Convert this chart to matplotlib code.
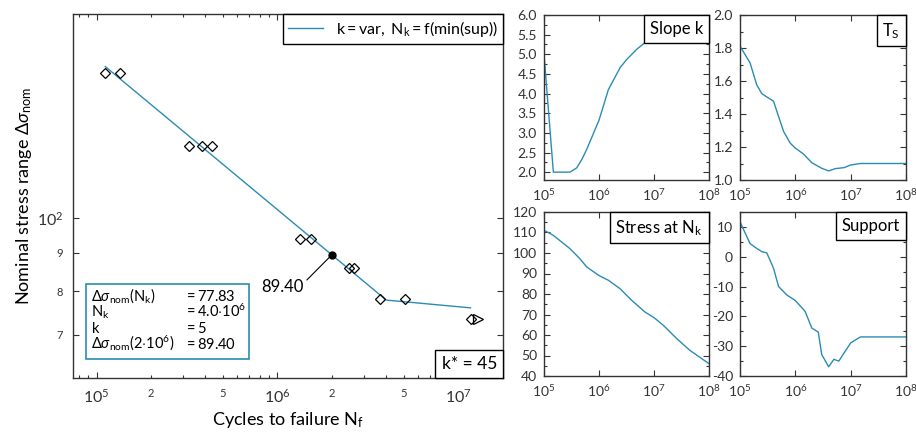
import numpy as np
import matplotlib
matplotlib.use('Agg')
import matplotlib.pyplot as plt
from matplotlib.ticker import FixedLocator, FixedFormatter, FuncFormatter, MultipleLocator, NullLocator
from matplotlib.offsetbox import AnchoredText
from matplotlib.transforms import offset_copy

plt.rcParams['font.family'] = ['Lato', 'DejaVu Sans']
plt.rcParams['mathtext.fontset'] = 'custom'
plt.rcParams['mathtext.rm'] = 'Lato'
plt.rcParams['mathtext.it'] = 'Lato:italic'
plt.rcParams['mathtext.bf'] = 'Lato:bold'
plt.rcParams['mathtext.sf'] = 'Lato'

TEAL = '#2b8cb3'
FRAME = '#333333'

# Wöhler-Versuche
N_test = [1.116e5, 1.346e5, 3.23e5, 3.83e5, 4.32e5, 1.335e6, 1.54e6, 2.49e6, 2.66e6, 3.7e6, 5.09e6]
S_test = [156.1, 156.1, 124.9, 124.9, 124.9, 93.8, 93.8, 85.9, 85.9, 78.1, 78.1]
N_runout = [1.17e7]
S_runout = [73.4]

# Wöhlerlinie (k = 5, k* = 45)
N_fit = [1.116e5, 4.0e6, 1.17e7]
S_fit = [159.2, 77.83, 76.0]
N_ref = [2.0e6]
S_ref = [89.40]

info_names = [r'$\Delta\sigma_\mathrm{nom}(\mathrm{N_k})$', r'$\mathrm{N_k}$', r'$\mathrm{k}$',
              r'$\Delta\sigma_\mathrm{nom}(2{\cdot}10^6)$']
info_values = [r'$=77.83$', r'$=4.0{\cdot}10^6$', r'$=5$', r'$=89.40$']

x_major = [1e5, 1e6, 1e7]
x_major_labels = [r'$10^5$', r'$10^6$', r'$10^7$']
y_major = [100]
y_major_labels = [r'$10^2$']
y_minor = [70, 80, 90]
y_minor_labels = ['7', '8', '9']

# Kleine Diagramme
N_slope = [1e5, 1.48e5, 2.97e5, 3.94e5, 4.86e5, 5.98e5, 1e6, 1.48e6, 2.42e6, 3.2e6, 4.88e6, 6.9e6, 1e7, 1e8]
slope_k = [5.0, 2.0, 2.0, 2.11, 2.32, 2.58, 3.32, 4.1, 4.66, 4.87, 5.13, 5.3, 5.4, 5.5]

N_ts = [1e5, 1.52e5, 2.0e5, 2.48e5, 4.04e5, 4.98e5, 6.14e5, 8.1e5, 1e6, 1.4e6, 1.98e6, 3.0e6, 4.0e6, 5.3e6, 7.6e6, 1e7, 1.5e7, 1e8]
T_s = [1.811, 1.71, 1.578, 1.523, 1.477, 1.385, 1.294, 1.223, 1.193, 1.158, 1.105, 1.071, 1.055, 1.069, 1.075, 1.091, 1.10, 1.10]

N_stress = [1e5, 1.48e5, 2.97e5, 4.5e5, 5.97e5, 1e6, 1.48e6, 2.41e6, 3.93e6, 6.86e6, 1e7, 1.48e7, 2.6e7, 4.5e7, 1e8]
stress_Nk = [111.1, 108.6, 102.1, 97.2, 93.2, 89.0, 86.7, 82.6, 76.9, 71.2, 68.5, 64.7, 58.2, 52.5, 46.0]

N_sup = [1e5, 1.52e5, 2e5, 2.48e5, 3.05e5, 4.04e5, 4.98e5, 7.0e5, 1e6, 1.5e6, 1.98e6, 2.6e6, 3.0e6, 4e6, 4.98e6, 6.1e6, 1e7, 1.5e7, 1e8]
support = [11.7, 4.4, 2.8, 1.7, 1.3, -3.9, -10.0, -12.8, -14.7, -18.3, -23.9, -25.3, -32.8, -36.9, -34.4, -35.0, -28.9, -26.9, -26.9]

W, H = 916, 432
fig = plt.figure(figsize=(W / 100, H / 100), dpi=100)


def px_axes(l, t, r, b):
    return fig.add_axes([l / W, 1 - b / H, (r - l) / W, (b - t) / H])


def style(ax, size):
    for s in ax.spines.values():
        s.set_color(FRAME)
        s.set_linewidth(1.0)
    ax.tick_params(which='both', direction='in', top=True, right=True,
                   colors=FRAME, labelcolor='#333333', labelsize=size, width=0.8)
    ax.tick_params(which='major', length=4)
    ax.tick_params(which='minor', length=2.5)


def box_label(ax, text, loc, size=12):
    at = AnchoredText(text, loc=loc, borderpad=0, pad=0.35, prop=dict(size=size))
    at.patch.set_boxstyle('square,pad=0')
    at.patch.set_edgecolor('black')
    at.patch.set_linewidth(1.0)
    ax.add_artist(at)
    return at


# Hauptdiagramm
ax = px_axes(73, 14, 503, 378)
ax.set_xscale('log')
ax.set_yscale('log')
ax.plot(N_fit, S_fit, color=TEAL, lw=1.0, label=r'$\mathrm{k = var,\ N_k = f(min(sup))}$')
ax.plot(N_test, S_test, ls='none', marker='D', ms=5, mfc='none', mec='black', mew=0.9)
ax.plot(N_runout, S_runout, ls='none', marker='D', ms=5, mfc='none', mec='black', mew=0.9)
shift = offset_copy(ax.transData, fig=fig, x=5.5, y=0, units='points')
ax.plot(N_runout, S_runout, ls='none', marker='>', ms=6.5, mfc='none', mec='black', mew=0.9, transform=shift)
ax.plot(N_ref, S_ref, ls='none', marker='o', ms=5, color='black')
ax.annotate('%.2f' % S_ref[0], xy=(N_ref[0], S_ref[0]), xytext=(-20, -23), textcoords='offset points',
            ha='right', va='center', fontsize=12,
            arrowprops=dict(arrowstyle='-', color='black', lw=0.8, shrinkA=0, shrinkB=2, relpos=(1.0, 0.75)))

ax.set_xlim(7.4e4, 1.77e7)
ax.set_ylim(61.3, 187)
style(ax, 11.5)
ax.xaxis.set_major_locator(FixedLocator(x_major))
ax.xaxis.set_major_formatter(FixedFormatter(x_major_labels))
ax.xaxis.set_minor_locator(FixedLocator([m * 10.0 ** e for e in range(4, 8) for m in range(2, 10)]))
ax.xaxis.set_minor_formatter(FuncFormatter(
    lambda v, p: '%d' % round(v / 10 ** np.floor(np.log10(v))) if round(v / 10 ** np.floor(np.log10(v))) in (2, 5) else ''))
ax.yaxis.set_major_locator(FixedLocator(y_major))
ax.yaxis.set_major_formatter(FixedFormatter(y_major_labels))
ax.yaxis.set_minor_locator(FixedLocator(y_minor))
ax.yaxis.set_minor_formatter(FixedFormatter(y_minor_labels))
ax.tick_params(axis='x', which='both', pad=7)
ax.tick_params(axis='y', which='both', pad=7)
ax.tick_params(which='minor', labelsize=8)
ax.tick_params(axis='y', which='minor', length=4)
ax.set_xlabel(r'Cycles to failure $\mathrm{N_f}$', fontsize=13, labelpad=3)
ax.set_ylabel(r'Nominal stress range $\Delta\sigma_\mathrm{nom}$', fontsize=13, labelpad=2)

leg = ax.legend(loc='upper right', fancybox=False, edgecolor='black', framealpha=1,
                borderaxespad=0, handlelength=2.2, fontsize=11.5, borderpad=0.3)
leg.get_frame().set_linewidth(1.0)

box_label(ax, 'k* = 45', 'lower right', size=12.5)

rect = plt.Rectangle((0.030, 0.052), 0.379, 0.206, transform=ax.transAxes,
                     fill=True, fc='white', ec=TEAL, lw=1.2, zorder=5)
ax.add_patch(rect)
baselines = [0.2115, 0.1676, 0.1236, 0.0797]
for name, val, yy in zip(info_names, info_values, baselines):
    ax.text(0.043, yy, name, transform=ax.transAxes, fontsize=10.5, va='baseline', zorder=6)
    ax.text(0.257, yy, val, transform=ax.transAxes, fontsize=10.5, va='baseline', zorder=6)

# Kleine Diagramme
panels = [
    ((544, 15, 709, 180), N_slope, slope_k, (1.8, 6.0), 0.5, 0.25, '%.1f', 'Slope k'),
    ((740, 15, 906, 180), N_ts, T_s, (1.0, 2.0), 0.2, 0.1, '%.1f', r'$\mathrm{T_S}$'),
    ((544, 212, 709, 376), N_stress, stress_Nk, (40, 120), 10, 5, '%d', r'Stress at $\mathrm{N_k}$'),
    ((740, 212, 906, 376), N_sup, support, (-40, 15), 10, 5, '%d', 'Support'),
]
for rect_px, xs, ys, ylim, major, minor, fmt, title in panels:
    a = px_axes(*rect_px)
    a.set_xscale('log')
    a.plot(xs, ys, color=TEAL, lw=1.0)
    a.set_xlim(1e5, 1e8)
    a.set_ylim(*ylim)
    style(a, 10)
    a.xaxis.set_major_locator(FixedLocator([1e5, 1e6, 1e7, 1e8]))
    a.xaxis.set_major_formatter(FixedFormatter([r'$10^5$', r'$10^6$', r'$10^7$', r'$10^8$']))
    a.xaxis.set_minor_locator(NullLocator())
    a.yaxis.set_major_locator(MultipleLocator(major))
    a.yaxis.set_minor_locator(MultipleLocator(minor))
    a.yaxis.set_major_formatter(FuncFormatter(lambda v, p, f=fmt: f % v))
    a.tick_params(axis='y', pad=5)
    a.tick_params(axis='x', pad=5)
    box_label(a, title, 'upper right')

fig.savefig('out.png', dpi=100)
